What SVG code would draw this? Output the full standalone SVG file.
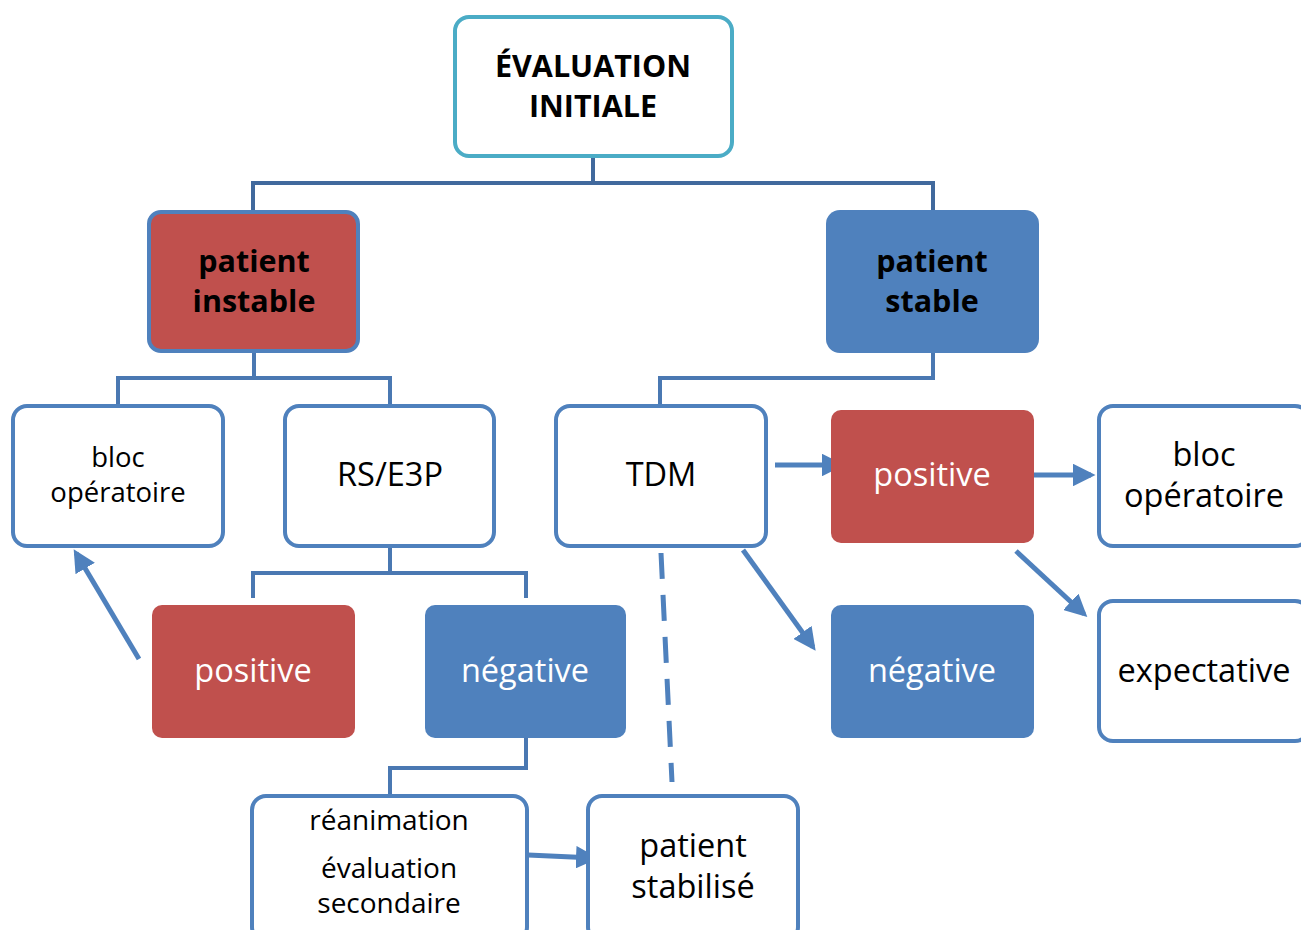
<svg xmlns="http://www.w3.org/2000/svg" width="1301" height="930" viewBox="0 0 1301 930">
<defs>
<marker id="ah" viewBox="0 0 10 10" refX="8" refY="5" markerWidth="4.5" markerHeight="4.5" orient="auto" markerUnits="strokeWidth">
<path d="M0,0 L10,5 L0,10 z" fill="#4f81bd"/>
</marker>
<style>
.t{font-family:"Open Sans","Liberation Sans",sans-serif;text-anchor:middle}
.b{font-weight:bold;font-size:30.5px;fill:#000}
.w{fill:#fff;font-size:32.5px}
.k{fill:#000}
.wb{fill:#fff;stroke:#4f81bd;stroke-width:4}
.red{fill:#c0504d}
.blue{fill:#4f81bd}
.tree{fill:none;stroke:#41699d;stroke-width:4}
.tree2{fill:none;stroke:#4a78b2;stroke-width:4}
.arr{fill:none;stroke:#4f81bd;stroke-width:5;marker-end:url(#ah)}
</style>
</defs>
<rect width="1301" height="930" fill="#fff"/>
<g id="connectors">
<path class="tree" d="M593,156 V183 M253,212 V183 H933 V212"/>
<path class="tree2" d="M254,351 V378 M118,406 V378 H390 V406"/>
<path class="tree2" d="M933,353 V378 H660 V406"/>
<path class="tree2" d="M390,546 V573 M253,598 V573 H526 V598"/>
<path class="tree2" d="M526,738 V768 H390 V796"/>
<path class="arr" d="M775,465 H840"/>
<path class="arr" d="M1027,475 H1091"/>
<path class="arr" d="M139,659 L76,553"/>
<path class="arr" d="M743,550 L813,647"/>
<path class="arr" d="M1016,551 L1084,614"/>
<path class="arr" d="M528,855 L594,858"/>
<path d="M661,553 L672,782" fill="none" stroke="#4f81bd" stroke-width="5" stroke-dasharray="26,16"/>
</g>
<g id="evaluation">
<rect x="455" y="17" width="277" height="139" rx="14" fill="#fff" stroke="#4bacc6" stroke-width="4"/>
<text class="t b" x="593" y="77">ÉVALUATION</text>
<text class="t b" x="593" y="117">INITIALE</text>
</g>
<g id="instable">
<rect x="149" y="212" width="209" height="139" rx="12" class="red" stroke="#4f81bd" stroke-width="4"/>
<text class="t b" x="254" y="272">patient</text>
<text class="t b" x="254" y="312">instable</text>
</g>
<g id="stable">
<rect x="826" y="210" width="213" height="143" rx="14" class="blue"/>
<text class="t b" x="932" y="272">patient</text>
<text class="t b" x="932" y="312">stable</text>
</g>
<g id="bloc1">
<rect x="13" y="406" width="210" height="140" rx="14" class="wb"/>
<text class="t k" x="118" y="467" font-size="27.5">bloc</text>
<text class="t k" x="118" y="502" font-size="27.5">opératoire</text>
</g>
<g id="rs">
<rect x="285" y="406" width="209" height="140" rx="14" class="wb"/>
<text class="t k" x="390" y="486" font-size="32.5">RS/E3P</text>
</g>
<g id="tdm">
<rect x="556" y="406" width="210" height="140" rx="14" class="wb"/>
<text class="t k" x="661" y="486" font-size="32.5">TDM</text>
</g>
<g id="positive2">
<rect x="831" y="410" width="203" height="133" rx="10" class="red"/>
<text class="t w" x="932" y="486">positive</text>
</g>
<g id="bloc2">
<rect x="1099" y="406" width="210" height="140" rx="14" class="wb"/>
<text class="t k" x="1204" y="466" font-size="32.5">bloc</text>
<text class="t k" x="1204" y="507" font-size="32.5">opératoire</text>
</g>
<g id="positive1">
<rect x="152" y="605" width="203" height="133" rx="10" class="red"/>
<text class="t w" x="253" y="682">positive</text>
</g>
<g id="negative1">
<rect x="425" y="605" width="201" height="133" rx="10" class="blue"/>
<text class="t w" x="525" y="682">négative</text>
</g>
<g id="negative2">
<rect x="831" y="605" width="203" height="133" rx="10" class="blue"/>
<text class="t w" x="932" y="682">négative</text>
</g>
<g id="expectative">
<rect x="1099" y="601" width="210" height="140" rx="14" class="wb"/>
<text class="t k" x="1204" y="682" font-size="32.5">expectative</text>
</g>
<g id="reanimation">
<rect x="252" y="796" width="275" height="145" rx="14" class="wb"/>
<text class="t k" x="389" y="830" font-size="28">réanimation</text>
<text class="t k" x="389" y="878" font-size="28">évaluation</text>
<text class="t k" x="389" y="913" font-size="28">secondaire</text>
</g>
<g id="stabilise">
<rect x="588" y="796" width="210" height="145" rx="14" class="wb"/>
<text class="t k" x="693" y="857" font-size="32.5">patient</text>
<text class="t k" x="693" y="898" font-size="32.5">stabilisé</text>
</g>
</svg>
